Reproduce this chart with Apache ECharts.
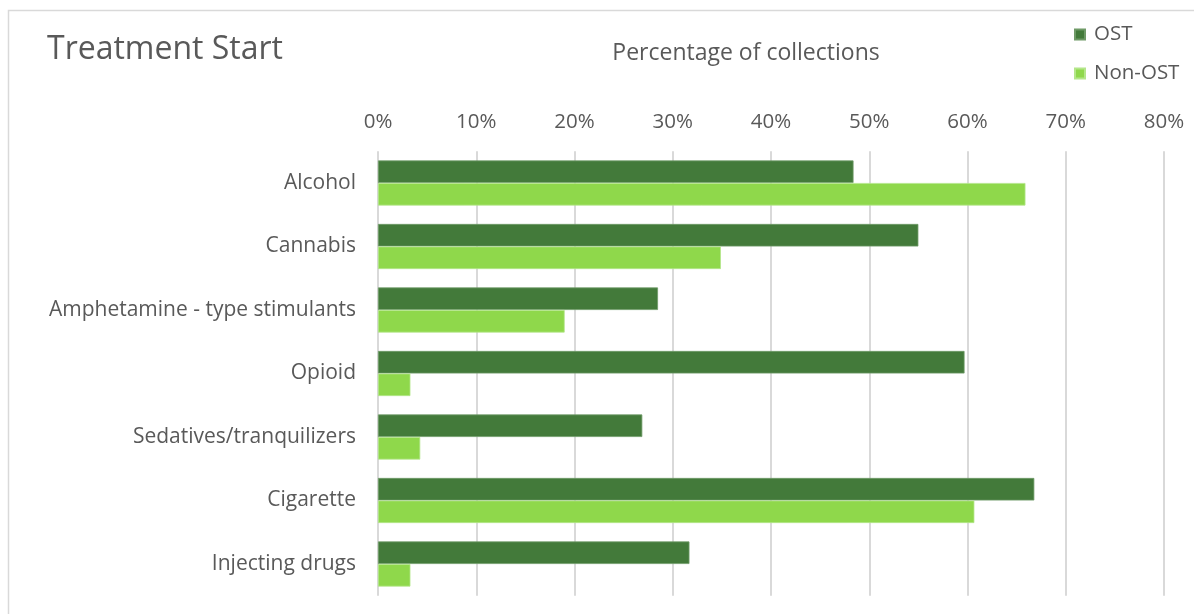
<!DOCTYPE html>
<html>
<head>
<meta charset="utf-8">
<script src="https://cdn.jsdelivr.net/npm/echarts@6/dist/echarts.min.js"></script>
<style>
  html, body { margin: 0; padding: 0; background: #fff; }
  #chart { width: 1194px; height: 614px; }
</style>
</head>
<body>
<div id="chart"></div>
<script>
// Substances, top to bottom
const categories = [
  'Alcohol',
  'Cannabis',
  'Amphetamine - type stimulants',
  'Opioid',
  'Sedatives/tranquilizers',
  'Cigarette',
  'Injecting drugs'
];
// Percentage of collections at treatment start
const ostValues    = [48.4, 55.0, 28.5, 59.7, 26.9, 66.8, 31.7];
const nonOstValues = [65.9, 34.9, 19.0, 3.3, 4.3, 60.7, 3.3];
const seriesNames  = ['OST', 'Non-OST'];

const FONT = '"Open Sans", "Noto Sans", sans-serif';
const TEXT = '#595959';

const chart = echarts.init(document.getElementById('chart'), null, { renderer: 'canvas' });

chart.setOption({
  animation: false,
  backgroundColor: '#ffffff',
  textStyle: { fontFamily: FONT, color: TEXT },
  graphic: [{
    type: 'rect',
    shape: { x: 8.5, y: 10.5, width: 1200, height: 620 },
    style: { fill: 'none', stroke: '#d9d9d9', lineWidth: 1.5 },
    z: -1
  }],
  title: {
    text: 'Treatment Start',
    left: 42,
    top: 29,
    textStyle: { fontFamily: FONT, fontSize: 32, fontWeight: 'normal', color: TEXT }
  },
  legend: {
    data: seriesNames,
    orient: 'vertical',
    left: 1069,
    top: 19,
    itemWidth: 10,
    itemHeight: 10,
    itemGap: 18,
    icon: 'rect',
    textStyle: { fontFamily: FONT, fontSize: 20.5, color: TEXT, padding: [0, 0, 0, 4] }
  },
  grid: { left: 378, right: 30, top: 151.25, bottom: 18.25, containLabel: false },
  xAxis: {
    type: 'value',
    position: 'top',
    min: 0,
    max: 80,
    interval: 10,
    name: 'Percentage of collections',
    nameLocation: 'middle',
    nameGap: 86,
    nameTextStyle: { fontFamily: FONT, fontSize: 23, color: TEXT, padding: [0, 50, 0, 0] },
    axisLine: { show: false },
    axisTick: { show: false },
    axisLabel: { formatter: '{value}%', margin: 19, fontFamily: FONT, fontSize: 20.5, color: TEXT },
    splitLine: { show: true, lineStyle: { color: '#d9d9d9', width: 2 } }
  },
  yAxis: {
    type: 'category',
    data: categories,
    inverse: true,
    axisLine: { show: false },
    axisTick: { show: false },
    axisLabel: { margin: 22, fontFamily: FONT, fontSize: 21, color: TEXT, padding: [3, 0, 0, 0] }
  },
  series: [
    {
      name: seriesNames[0],
      type: 'bar',
      data: ostValues,
      barGap: '0%',
      barCategoryGap: '29%',
      itemStyle: { color: '#437a3a', borderColor: '#6f9a67', borderWidth: 0.8 }
    },
    {
      name: seriesNames[1],
      type: 'bar',
      data: nonOstValues,
      barGap: '0%',
      barCategoryGap: '29%',
      itemStyle: { color: '#8fd84b', borderColor: '#b4e68a', borderWidth: 0.8 }
    }
  ]
});
</script>
</body>
</html>
